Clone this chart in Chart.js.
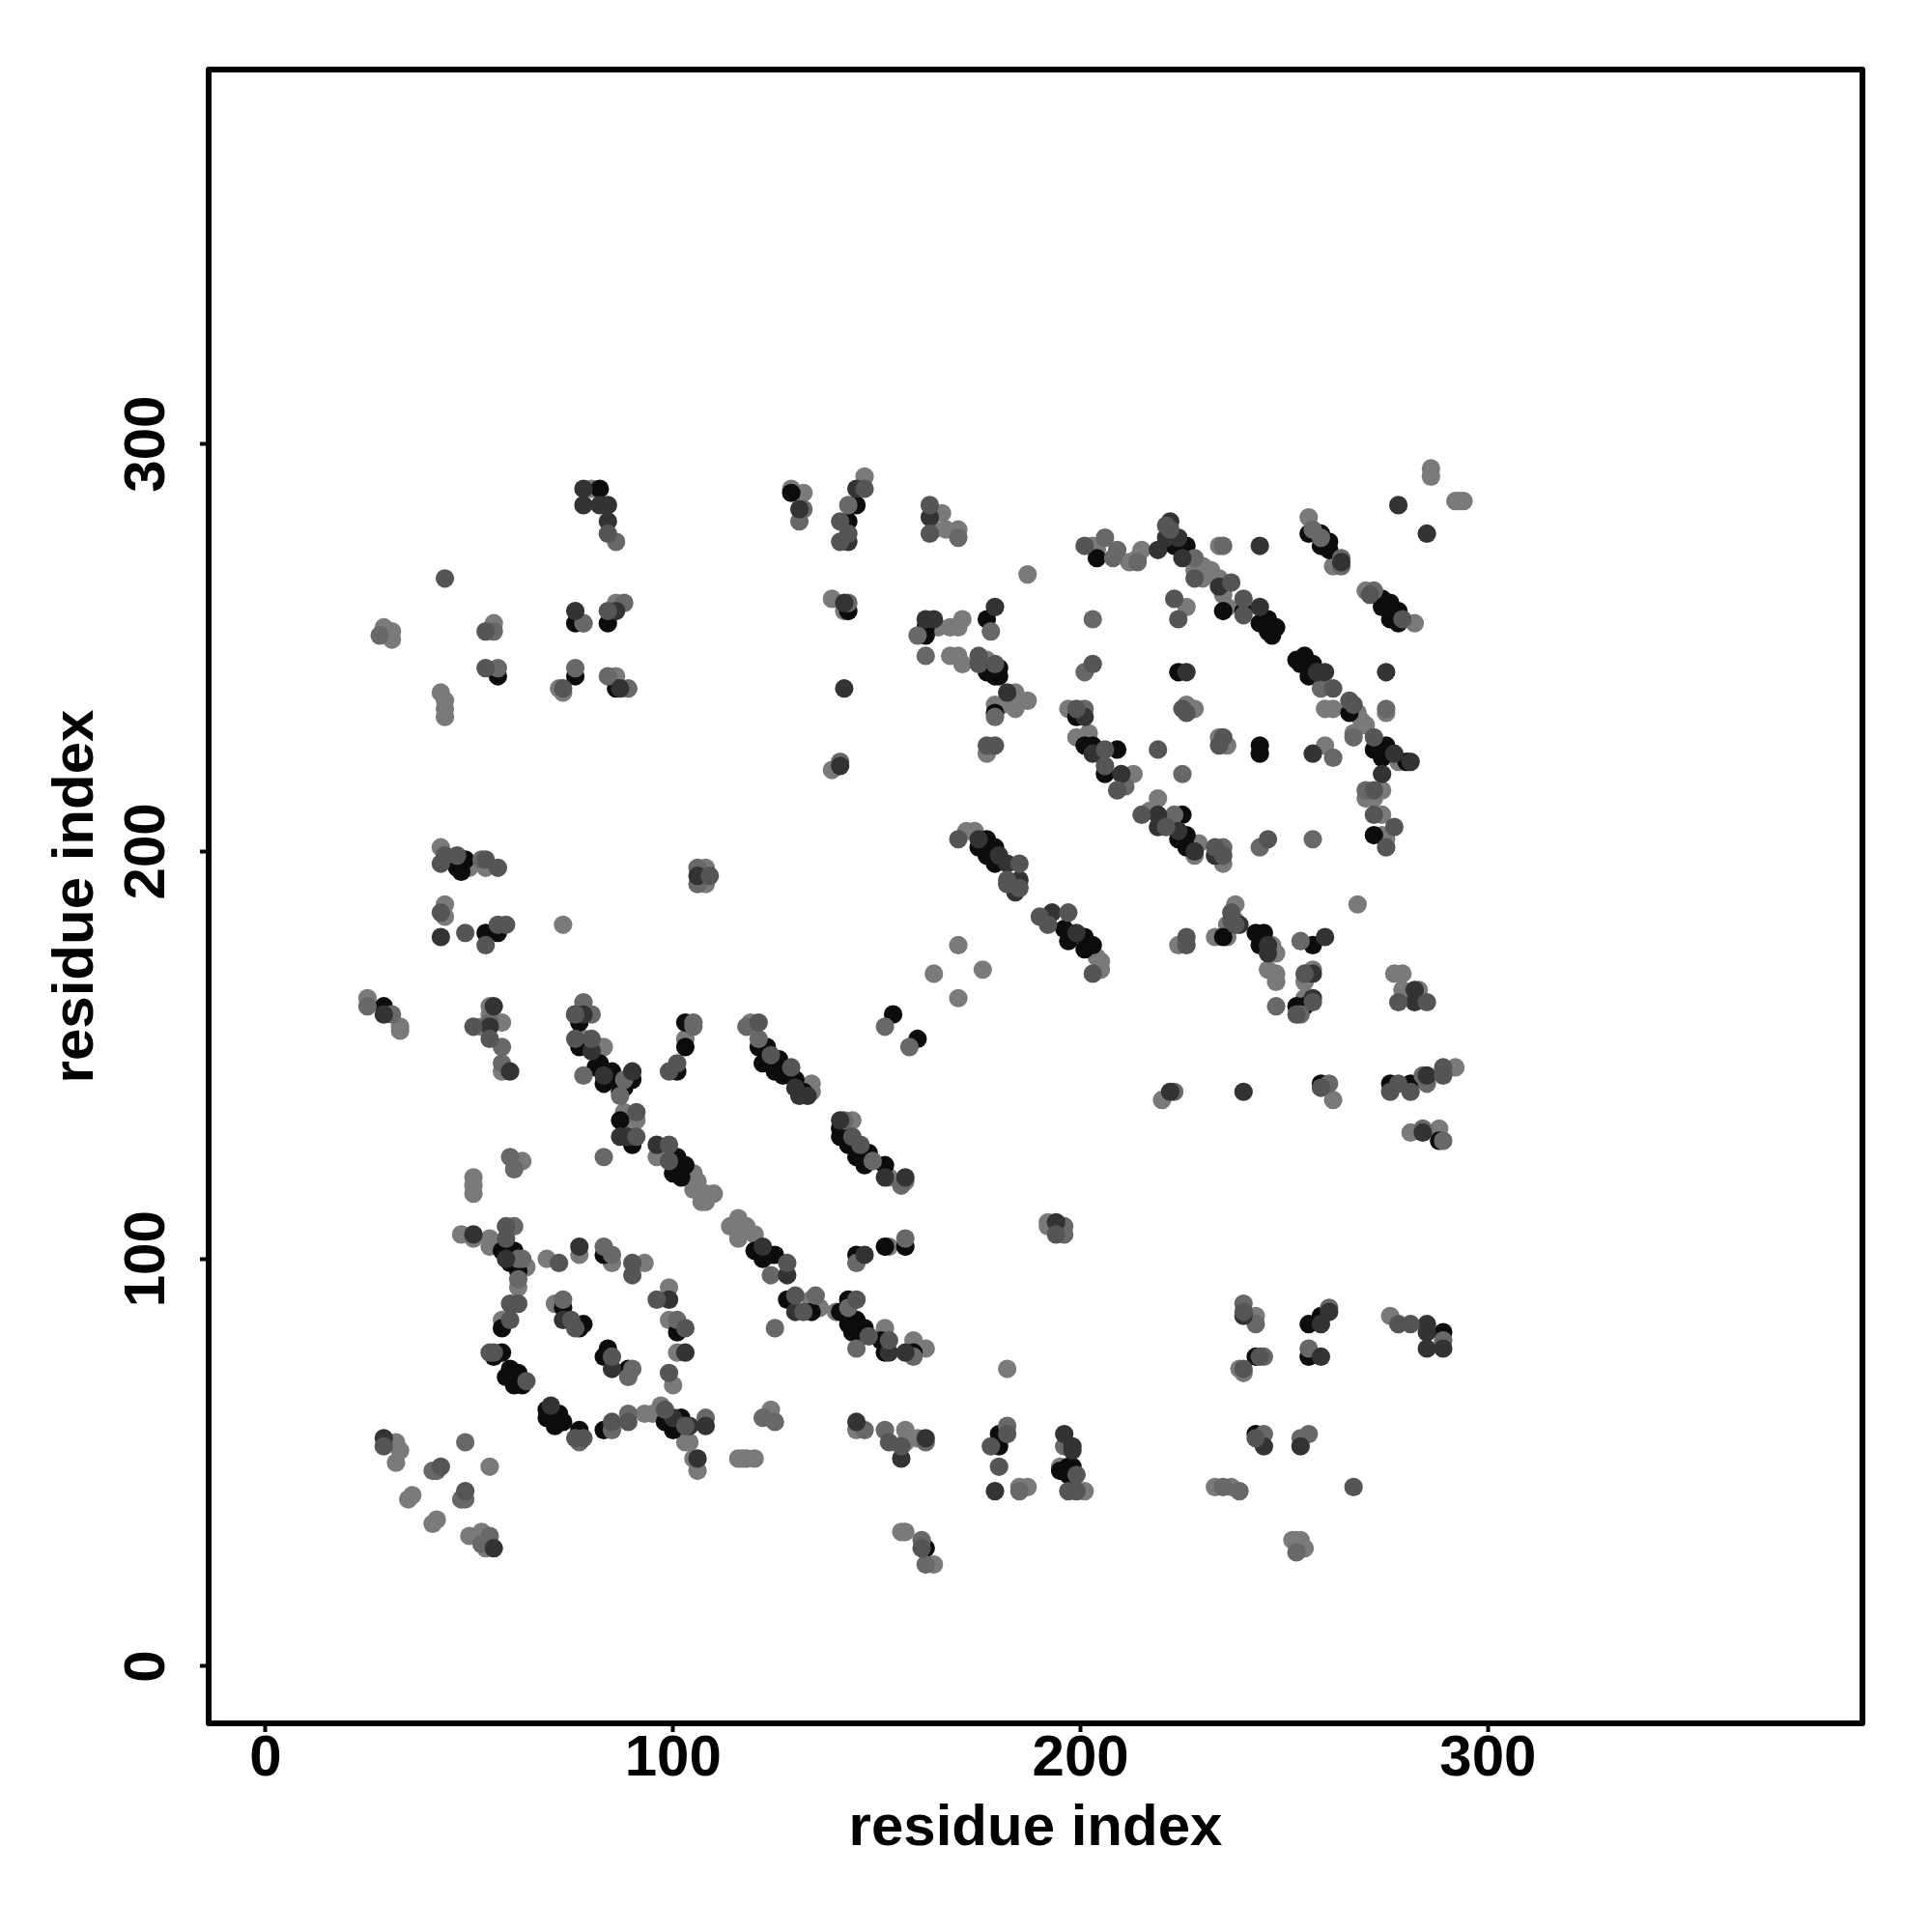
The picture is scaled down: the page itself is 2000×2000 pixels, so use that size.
<!DOCTYPE html>
<html><head><meta charset="utf-8">
<style>html,body{margin:0;padding:0;background:#fff}canvas{display:block}</style>
<script src="https://cdn.jsdelivr.net/npm/chart.js@4"></script>
</head><body><canvas id="c" width="2000" height="2000"></canvas>
<script>
const axisTitle = "residue index";
const tickValues = [0, 100, 200, 300];
const shadeColors = ["#555555", "#333333", "#686868", "#0c0c0c", "#7a7a7a"];
const blackPoints = [[256,84],[259,86],[289,82],[256,76],[243,76],[243,57],[143,90],[141,87],[145,85],[143,84],[144,82],[147,83],[146,81],[151,80],[152,77],[159,77],[180,57],[180,54],[195,48],[197,49],[198,49],[197,47],[162,29],[154,160],[160,154],[141,132],[141,130],[143,128],[145,125],[148,126],[147,123],[152,123],[145,101],[152,103],[157,103],[196,181],[201,179],[203,177],[197,178],[201,176],[204,272],[223,275],[226,275],[235,259],[240,259],[246,257],[244,256],[246,254],[248,255],[247,253],[256,278],[259,278],[261,276],[259,275],[261,274],[274,262],[276,261],[274,260],[278,259],[276,257],[278,256],[224,244],[253,247],[255,248],[254,246],[257,246],[256,243],[266,234],[275,226],[272,225],[274,223],[280,222],[244,226],[244,224],[199,233],[201,226],[203,226],[209,225],[206,219],[225,209],[226,204],[224,203],[226,201],[272,204],[143,259],[177,257],[162,255],[162,253],[177,244],[180,245],[179,243],[180,243],[179,234],[177,203],[175,201],[179,201],[177,199],[179,197],[145,285],[143,281],[82,289],[129,288],[76,256],[84,256],[86,240],[57,243],[76,243],[47,196],[49,198],[48,195],[54,180],[57,180],[29,162],[76,160],[77,158],[77,152],[81,147],[82,148],[85,146],[83,143],[86,144],[87,141],[90,144],[88,142],[103,158],[103,152],[101,146],[121,152],[123,152],[122,148],[126,149],[125,146],[127,145],[130,144],[132,141],[87,134],[90,128],[101,125],[103,123],[100,121],[102,120],[120,102],[122,100],[124,101],[125,101],[128,90],[134,87],[58,102],[61,102],[60,99],[62,97],[58,83],[83,101],[101,82],[73,88],[77,83],[78,84],[84,78],[83,76],[89,73],[56,76],[58,77],[60,73],[59,71],[62,72],[61,69],[63,69],[69,63],[69,61],[71,59],[72,62],[73,60],[77,58],[83,58],[98,60],[102,61],[100,58],[235,179],[243,180],[245,180],[244,177],[257,177],[253,162],[255,162],[259,143],[276,143],[281,143],[288,129]];
const darkPoints = [[240,86],[261,87],[259,84],[285,84],[285,82],[289,78],[285,78],[259,76],[245,54],[254,54],[153,77],[157,77],[145,60],[162,56],[156,51],[179,43],[196,57],[198,54],[198,53],[141,134],[152,120],[157,120],[222,141],[194,109],[147,101],[193,185],[199,180],[219,274],[222,281],[221,277],[224,277],[225,272],[234,265],[244,275],[244,260],[264,271],[278,285],[285,278],[226,244],[275,244],[258,244],[260,244],[277,224],[281,222],[274,219],[257,224],[201,233],[203,224],[210,219],[219,209],[219,206],[224,205],[228,200],[233,199],[142,261],[179,260],[162,257],[164,257],[182,239],[142,240],[141,221],[175,203],[180,199],[182,197],[185,193],[184,190],[145,289],[143,276],[163,282],[78,289],[78,285],[82,285],[84,285],[84,281],[131,284],[76,259],[86,259],[87,240],[106,194],[43,179],[29,160],[56,162],[55,157],[60,146],[78,160],[80,151],[83,145],[90,146],[130,142],[133,140],[131,140],[87,130],[89,130],[96,128],[122,103],[128,96],[130,87],[51,106],[59,100],[77,103],[99,90],[103,77],[73,85],[85,73],[70,64],[100,61],[104,59],[108,59],[106,51],[29,56],[56,29],[239,182],[246,177],[246,175],[260,179],[257,170],[257,164],[240,141],[282,166],[282,163],[285,145],[284,131]];
const midPoints = [[240,87],[278,84],[281,84],[244,76],[243,56],[240,73],[267,44],[145,90],[148,81],[153,80],[153,55],[156,54],[182,57],[178,54],[180,49],[199,47],[197,43],[199,43],[161,29],[144,130],[146,128],[226,179],[226,177],[194,106],[203,170],[190,184],[197,185],[192,182],[201,275],[221,280],[222,279],[228,267],[237,266],[240,262],[240,258],[223,262],[224,257],[203,246],[262,240],[266,237],[267,236],[272,228],[234,226],[235,228],[219,225],[225,235],[226,234],[199,235],[206,225],[206,221],[209,215],[215,209],[221,206],[233,201],[235,199],[246,203],[272,215],[272,209],[277,206],[275,201],[279,257],[271,263],[141,281],[143,278],[141,276],[163,285],[163,278],[175,248],[175,246],[179,246],[177,226],[179,226],[170,203],[185,197],[182,193],[182,192],[185,191],[147,289],[84,278],[84,259],[44,267],[54,254],[54,245],[73,240],[43,197],[44,199],[47,199],[54,198],[57,196],[109,194],[43,185],[49,180],[54,177],[57,182],[59,182],[51,157],[55,154],[76,160],[76,154],[80,154],[101,148],[99,146],[121,158],[124,150],[129,147],[91,136],[91,130],[99,128],[99,124],[128,99],[130,91],[132,87],[59,108],[59,105],[60,89],[62,89],[60,85],[72,99],[90,99],[90,96],[96,90],[103,83],[99,72],[75,85],[76,83],[85,76],[55,77],[56,77],[64,70],[76,56],[78,56],[85,60],[89,60],[98,63],[103,59],[29,54],[43,49],[49,43],[238,182],[237,183],[237,185],[255,170],[257,163],[253,160],[278,163],[285,163],[259,142],[276,141],[278,143],[281,141],[289,147],[289,145]];
const softPoints = [[240,89],[243,84],[261,88],[289,80],[256,78],[245,76],[245,57],[254,56],[256,57],[235,44],[239,43],[253,28],[143,88],[159,76],[145,78],[147,58],[152,58],[162,55],[182,59],[185,43],[196,54],[152,157],[158,152],[142,134],[149,124],[156,118],[223,141],[196,108],[196,106],[157,105],[145,99],[161,31],[162,25],[206,277],[209,274],[208,272],[214,271],[228,272],[235,275],[257,279],[259,277],[264,270],[264,272],[272,264],[203,257],[201,244],[259,240],[267,228],[275,235],[262,223],[225,219],[201,235],[211,216],[223,209],[235,201],[244,201],[257,203],[270,215],[143,285],[170,277],[143,261],[178,254],[160,253],[162,248],[179,233],[141,222],[86,276],[132,284],[131,281],[78,256],[88,261],[56,254],[28,253],[57,245],[76,245],[84,243],[89,240],[53,198],[106,196],[106,192],[25,162],[31,160],[55,158],[58,152],[58,148],[78,163],[80,160],[78,145],[88,144],[87,140],[105,158],[105,157],[118,157],[121,154],[60,125],[61,122],[83,125],[124,96],[135,91],[125,83],[125,60],[122,61],[61,108],[62,100],[63,100],[62,95],[101,85],[83,103],[85,101],[73,90],[90,73],[89,71],[77,55],[85,58],[89,62],[108,61],[49,55],[41,48],[42,48],[49,41],[48,41],[55,32],[53,30],[248,162],[254,178],[254,160],[261,143],[284,145],[285,143],[284,132],[289,129]];
const lightPoints = [[243,86],[276,86],[240,72],[239,73],[233,44],[237,44],[252,31],[253,31],[254,31],[255,29],[140,87],[152,83],[159,80],[162,78],[145,58],[157,58],[157,55],[160,56],[182,73],[185,44],[187,44],[195,49],[201,43],[156,33],[157,33],[164,25],[170,177],[164,170],[176,171],[170,164],[144,134],[153,120],[157,119],[224,177],[220,139],[192,109],[192,108],[205,173],[205,171],[153,103],[204,174],[203,275],[204,274],[212,271],[215,274],[214,272],[228,269],[230,270],[232,269],[230,267],[234,267],[234,275],[235,263],[236,260],[256,282],[262,270],[293,286],[292,286],[294,286],[286,294],[286,292],[270,264],[282,256],[226,260],[187,268],[260,235],[262,235],[268,234],[269,232],[267,229],[270,231],[278,222],[275,234],[260,226],[236,226],[234,228],[226,236],[228,235],[197,235],[199,228],[202,229],[213,219],[217,210],[219,213],[229,202],[228,199],[235,197],[274,215],[270,213],[272,213],[274,209],[274,204],[275,203],[268,187],[147,292],[166,283],[164,279],[167,279],[170,279],[139,262],[142,259],[165,255],[168,255],[171,257],[170,255],[168,248],[170,248],[171,246],[177,247],[184,239],[187,237],[185,237],[184,235],[181,236],[179,236],[177,224],[139,220],[172,205],[174,205],[80,289],[129,289],[132,288],[78,256],[86,261],[56,256],[29,255],[31,254],[31,252],[72,240],[73,239],[86,243],[43,239],[44,237],[44,235],[44,233],[43,201],[50,196],[54,196],[108,196],[108,192],[44,187],[44,184],[73,182],[25,164],[33,157],[33,156],[55,162],[55,160],[58,158],[53,157],[58,146],[78,154],[82,152],[83,152],[103,154],[119,158],[134,143],[134,141],[88,136],[88,134],[91,134],[63,124],[51,120],[51,118],[51,116],[96,125],[105,121],[106,119],[105,117],[108,116],[110,116],[107,114],[108,114],[116,110],[114,108],[116,105],[118,108],[120,106],[134,90],[134,89],[136,88],[48,106],[51,105],[55,105],[55,103],[64,98],[62,93],[58,85],[69,100],[77,101],[85,99],[93,99],[99,93],[99,85],[101,77],[100,69],[71,89],[93,62],[95,62],[97,64],[103,55],[104,55],[105,51],[106,48],[116,51],[117,51],[118,51],[120,51],[124,63],[32,55],[33,53],[32,50],[55,49],[36,42],[35,41],[42,36],[41,35],[50,32],[53,33],[54,29],[233,179],[236,179],[236,182],[238,183],[238,187],[247,177],[248,175],[246,171],[248,170],[248,168],[257,171],[255,168],[255,164],[277,170],[279,170],[279,166],[283,166],[262,139],[292,147],[281,131],[288,132]];

// Chart.js paints the first dataset last, so the list runs from top layer to bottom layer.
const layers = [midPoints, darkPoints, softPoints, blackPoints, lightPoints];
const frameBox = {
  id: "frameBox",
  afterDraw(chart) {
    const a = chart.chartArea, g = chart.ctx;
    g.save();
    g.strokeStyle = "#000"; g.lineWidth = 6; g.lineJoin = "round";
    g.strokeRect(a.left, a.top, a.right - a.left, a.bottom - a.top);
    g.restore();
  }
};
function axis(extra) {
  return Object.assign({
    type: "linear",
    afterBuildTicks(s) { s.ticks = tickValues.map(v => ({ value: v })); },
    border: { display: false },
    grid: { drawOnChartArea: false, drawTicks: true, tickLength: 9, tickWidth: 4, tickColor: "#000", color: "#000" }
  }, extra);
}
const tickFont = { family: "Liberation Sans", size: 60, weight: "bold" };
new Chart(document.getElementById("c"), {
  type: "scatter",
  data: { datasets: layers.map((pts, i) => ({
    data: pts.map(p => ({ x: p[0], y: p[1] })),
    backgroundColor: shadeColors[i], pointRadius: 9.6, pointBorderWidth: 0, pointHoverRadius: 9.6
  })) },
  options: {
    responsive: false, animation: false, devicePixelRatio: 1,
    layout: { padding: { left: 0, top: 72, right: 72, bottom: 0 } },
    plugins: { legend: { display: false }, tooltip: { enabled: false } },
    scales: {
      x: axis({
        min: -13.98, max: 391.9,
        afterFit(s) { s.height = 216; },
        ticks: { autoSkip: false, font: tickFont, color: "#000", padding: -8, maxRotation: 0 },
        title: { display: true, text: axisTitle, color: "#000", font: tickFont, padding: { top: 0, bottom: 71 } }
      }),
      y: axis({
        min: -13.99, max: 391.9,
        afterFit(s) { s.width = 216; },
        ticks: { autoSkip: false, font: tickFont, color: "#000", padding: 3, minRotation: 90, maxRotation: 90, crossAlign: "center" },
        title: { display: true, text: axisTitle, color: "#000", font: tickFont, padding: { top: 43, bottom: 0 } }
      })
    }
  },
  plugins: [frameBox]
});
</script></body></html>
